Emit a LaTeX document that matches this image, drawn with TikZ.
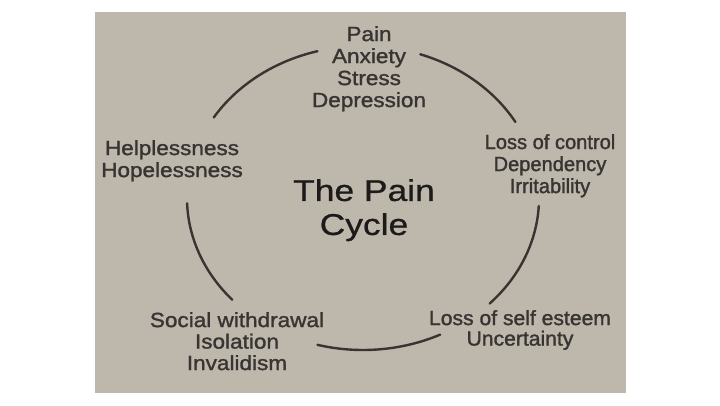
\documentclass[tikz,border=0pt]{standalone}
\usepackage{fontspec}
\usepackage{tikz}
\setmainfont{Liberation Sans}
\newfontfamily\wideLab[FakeStretch=1.10,FakeBold=1.4]{Liberation Sans}
\newfontfamily\midLab[FakeStretch=1.03,FakeBold=1.4]{Liberation Sans}
\newfontfamily\narrowLab[FakeStretch=0.98,FakeBold=1.4]{Liberation Sans}
\newfontfamily\titleFont[FakeStretch=1.18,FakeBold=0.8]{Liberation Sans}
\definecolor{paper}{RGB}{190,183,172}
\definecolor{ink}{RGB}{55,52,50}
\definecolor{darkink}{RGB}{28,27,26}
\tikzstyle{stage}=[inner sep=0pt, anchor=north, align=center, text=ink,
    font=\fontsize{20.5pt}{22pt}\selectfont]
\tikzstyle{cycle_arc}=[draw=ink, line width=2.4pt, line cap=round]

\begin{document}
\begin{tikzpicture}[x=1pt,y=-1pt]
              \useasboundingbox (0,0) rectangle (720,405);
              \fill[paper] (95,12) rectangle (626,393);
              \coordinate (hub) at (363,198);
              \node[stage, font=\wideLab\fontsize{20.5pt}{22pt}\selectfont] (top) at (369,26){Pain\\Anxiety\\Stress\\Depression};
              \node[stage, font=\narrowLab\fontsize{20.5pt}{22pt}\selectfont] (control) at (550,134){Loss of control\\Dependency\\Irritability};
              \node[stage, font=\midLab\fontsize{20.5pt}{20.5pt}\selectfont] (esteem) at (520,310){Loss of self esteem\\Uncertainty};
              \node[stage, font=\wideLab\fontsize{20.5pt}{21.5pt}\selectfont] (social) at (237,312){Social withdrawal\\Isolation\\Invalidism};
              \node[stage, font=\wideLab\fontsize{20.5pt}{22pt}\selectfont] (helpless) at (172,140){Helplessness\\Hopelessness};
              \node[stage, text=darkink, font=\titleFont\fontsize{30pt}{34pt}\selectfont] (title) at (364,179){The Pain\\Cycle};
              \draw[cycle_arc] ([shift={(212:176 and 152)}]hub) arc[start angle=212, end angle=255, x radius=176, y radius=152];
              \draw[cycle_arc] ([shift={(289:176 and 152)}]hub) arc[start angle=289, end angle=330, x radius=176, y radius=152];
              \draw[cycle_arc] ([shift={(3:176 and 152)}]hub) arc[start angle=3, end angle=44, x radius=176, y radius=152];
              \draw[cycle_arc] ([shift={(64:176 and 152)}]hub) arc[start angle=64, end angle=105, x radius=176, y radius=152];
              \draw[cycle_arc] ([shift={(138:176 and 152)}]hub) arc[start angle=138, end angle=178, x radius=176, y radius=152];
            \end{tikzpicture}
\end{document}
